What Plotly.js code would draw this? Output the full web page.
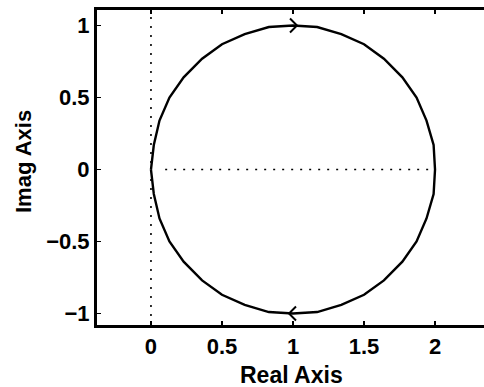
<!DOCTYPE html>
<html>
<head>
<meta charset="utf-8">
<script src="https://cdn.plot.ly/plotly-3.0.1.min.js"></script>
<style>
html,body{margin:0;padding:0;overflow:hidden;background:#fff;}
#chart{width:490px;height:387px;}
</style>
</head>
<body>
<div id="chart"></div>
<script>
// Nyquist curve (negative freqs: upper half, positive: lower half)
const re = [0.00,0.02,0.06,0.13,0.23,0.36,0.50,0.66,0.83,1.00,1.17,1.34,1.50,1.64,1.77,1.87,1.94,1.99,2.00,
            1.99,1.94,1.87,1.77,1.64,1.50,1.34,1.17,1.00,0.83,0.66,0.50,0.36,0.23,0.13,0.06,0.02,0.00];
const im = [0.00,0.17,0.34,0.50,0.64,0.77,0.87,0.94,0.99,1.00,0.99,0.94,0.87,0.77,0.64,0.50,0.34,0.17,0.00,
            -0.17,-0.34,-0.50,-0.64,-0.77,-0.87,-0.94,-0.99,-1.00,-0.99,-0.94,-0.87,-0.77,-0.64,-0.50,-0.34,-0.17,0.00];
// indices of the curve where direction arrows are drawn
const arrowIdx = [9, 27];
// dotted reference lines
const realLineX = [0.10, 1.96];
const realLineY = [0, 0];
const imagLineX = [0, 0];
const imagLineY = [-1.08, 1.11];
// ticks and titles
const xTicks = [0, 0.5, 1, 1.5, 2];
const xTickText = ['0', '0.5', '1', '1.5', '2'];
const yTicks = [-1, -0.5, 0, 0.5, 1];
const yTickText = ['\u22121', '\u22120.5', '0', '0.5', '1'];
const xTitle = 'Real Axis';
const yTitle = 'Imag Axis';

const W = 490, H = 387;
const M = {l: 97, r: 0, t: 10, b: 62};
const xRange = [-0.38, 2.387];
const yRange = [-1.08, 1.108];
const plotW = W - M.l - M.r, plotH = H - M.t - M.b;
const pxX = plotW / (xRange[1] - xRange[0]);
const pxY = plotH / (yRange[1] - yRange[0]);

const FONT = 'Liberation Sans, Arial, Helvetica, sans-serif';

const traces = [
  {x: imagLineX, y: imagLineY, mode: 'lines', line: {color: '#000', width: 1.6, dash: '2px,7px'}, hoverinfo: 'skip'},
  {x: realLineX, y: realLineY, mode: 'lines', line: {color: '#000', width: 1.6, dash: '2px,7px'}, hoverinfo: 'skip'},
  {x: re, y: im, mode: 'lines', line: {color: '#000', width: 2.4}, hoverinfo: 'skip'}
];

// chevron arrowheads built from curve direction at arrow indices
arrowIdx.forEach(i => {
  const dx = (re[i + 1] - re[i - 1]) * pxX;
  const dy = (im[i + 1] - im[i - 1]) * pxY;
  const n = Math.hypot(dx, dy);
  const ux = dx / n, uy = dy / n;
  const ax = re[i] + ux * 4 / pxX, ay = im[i] + uy * 4 / pxY;  // apex
  const back = 7, half = 7;
  const p1 = [ax + (-ux * back - uy * half) / pxX, ay + (-uy * back + ux * half) / pxY];
  const p2 = [ax + (-ux * back + uy * half) / pxX, ay + (-uy * back - ux * half) / pxY];
  traces.push({x: [p1[0], ax, p2[0]], y: [p1[1], ay, p2[1]], mode: 'lines',
               line: {color: '#000', width: 2}, hoverinfo: 'skip'});
});

const axisCommon = {
  showline: true, linecolor: '#000', linewidth: 3, mirror: 'ticks',
  ticks: 'inside', ticklen: 4, tickwidth: 1.5, tickcolor: '#000',
  showgrid: false, zeroline: false, automargin: false,
  tickfont: {family: FONT, size: 22, color: '#000', weight: 'bold'}
};

const titleFont = {family: FONT, size: 22, color: '#000', weight: 'bold'};

const layout = {
  width: W, height: H, margin: M,
  paper_bgcolor: '#fff', plot_bgcolor: '#fff', showlegend: false,
  xaxis: Object.assign({}, axisCommon, {
    range: xRange, tickmode: 'array', tickvals: xTicks, ticktext: xTickText
  }),
  yaxis: Object.assign({}, axisCommon, {
    range: yRange, tickmode: 'array', tickvals: yTicks, ticktext: yTickText
  }),
  annotations: [
    {text: xTitle, xref: 'paper', yref: 'paper', x: (291 - M.l) / plotW, y: (M.t + plotH - 375) / plotH,
     xanchor: 'center', yanchor: 'middle', showarrow: false, font: Object.assign({}, titleFont, {size: 23})},
    {text: yTitle, xref: 'paper', yref: 'paper', x: (24 - M.l) / plotW, y: (M.t + plotH - 162) / plotH,
     xanchor: 'center', yanchor: 'middle', textangle: -90, showarrow: false, font: titleFont}
  ]
};

Plotly.newPlot('chart', traces, layout, {staticPlot: true, displayModeBar: false});
</script>
</body>
</html>
